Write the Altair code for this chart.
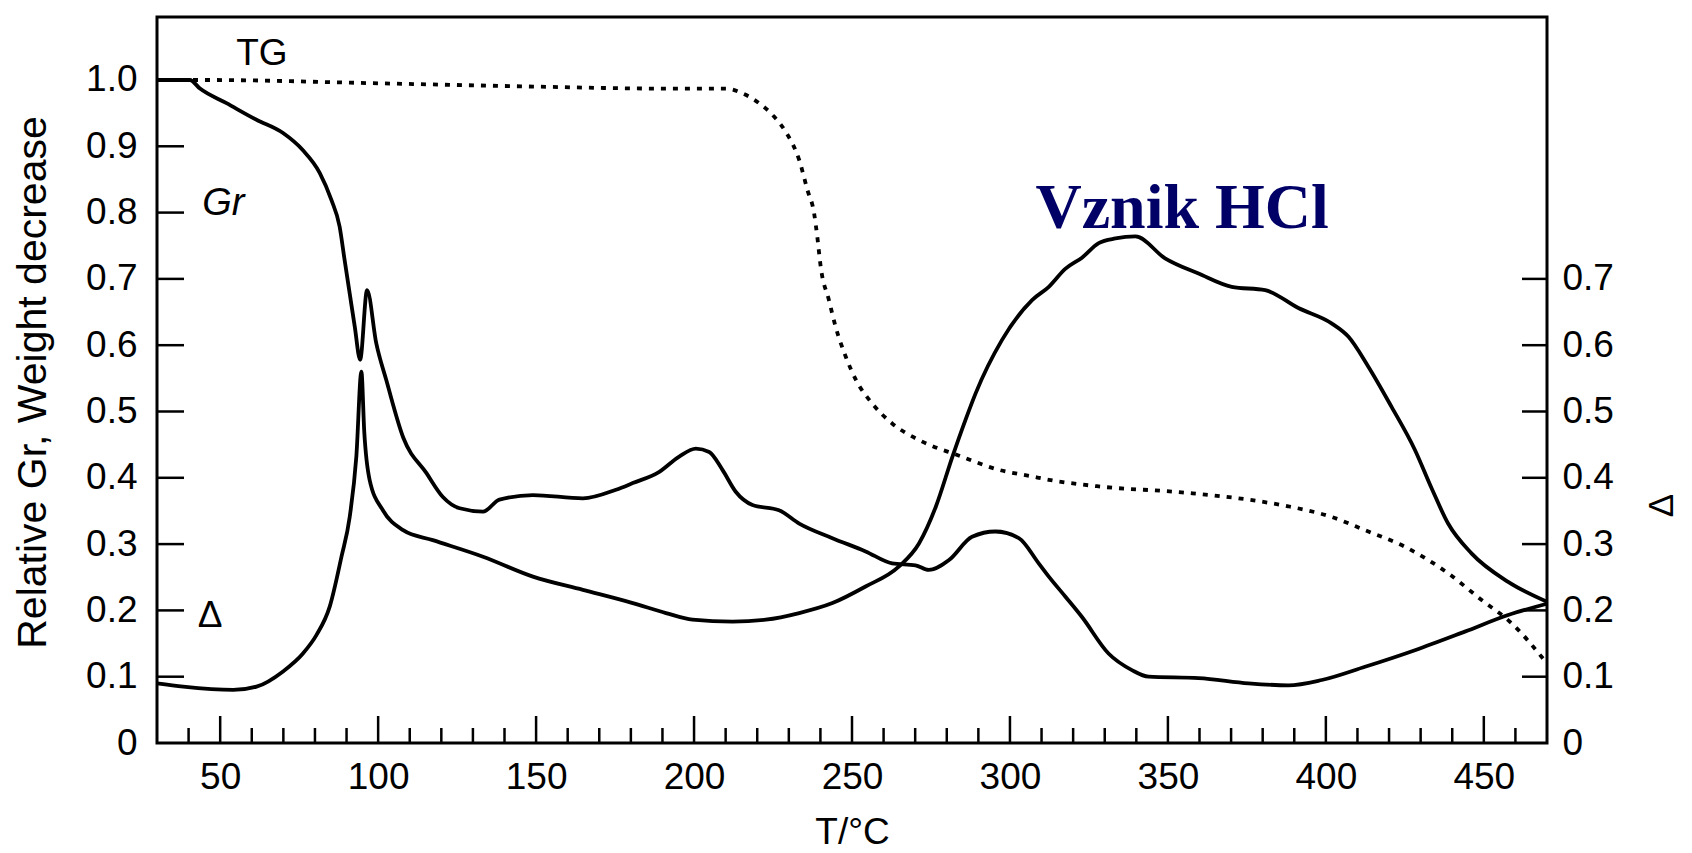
import altair as alt
import pandas as pd

# ---- data ----
tg_T = [30, 45, 100, 150, 190, 210, 215.3, 220.6, 225.3, 229, 233.3, 235.9, 238, 239, 240.1,
        242.7, 244.8, 248, 251.2, 256.4, 262.7, 271.2, 277.5, 281.8, 296.5, 307, 312.3, 328.1,
        354.4, 375.5, 388.1, 401.8, 412.4, 425, 438.7, 449.2, 458.7, 470]
tg_v = [1.0, 1.0, 0.995, 0.99, 0.987, 0.987, 0.98, 0.965, 0.945, 0.922, 0.879, 0.834, 0.799, 0.764,
        0.718, 0.668, 0.628, 0.583, 0.548, 0.512, 0.482, 0.457, 0.444, 0.437, 0.412, 0.402, 0.397,
        0.387, 0.378, 0.367, 0.357, 0.341, 0.321, 0.296, 0.256, 0.216, 0.181, 0.12]

gr_T = [30, 40.4, 43.6, 52, 61.5, 69.9, 76.2, 81.5, 85.2, 87.8, 89.4, 91, 92.6, 94.3, 96.5, 99.4,
        102.6, 108, 115.3, 120.5, 125.8, 133.2, 138.4, 149, 164.8, 175.3, 180.6, 189, 195.3, 200.6,
        204.8, 209, 213.2, 218.5, 226.9, 233.3, 243.8, 254.3, 262.7, 270.1, 274.3, 280.7, 288,
        295.4, 302.8, 309.1, 312.3, 317.5, 322.8, 331.2, 338.6, 343.9, 359.7, 375.5, 388.1, 398.7,
        412.4, 428.2, 444, 457.7, 470]
gr_v = [1.0, 1.0, 0.987, 0.965, 0.94, 0.92, 0.894, 0.86, 0.819, 0.779, 0.728, 0.678, 0.628, 0.578,
        0.683, 0.603, 0.547, 0.46, 0.407, 0.371, 0.354, 0.349, 0.367, 0.374, 0.369, 0.382, 0.392,
        0.409, 0.432, 0.444, 0.439, 0.412, 0.379, 0.359, 0.351, 0.331, 0.309, 0.289, 0.271, 0.268,
        0.261, 0.276, 0.311, 0.319, 0.309, 0.271, 0.251, 0.221, 0.19, 0.135, 0.11, 0.1, 0.098,
        0.09, 0.087, 0.095, 0.115, 0.14, 0.168, 0.193, 0.21]

d_T = [30, 38.3, 54.1, 61.5, 69.9, 76.2, 80.5, 84.7, 88.4, 91, 93.1, 94.7, 95.6, 97.3, 101.5,
       107.9, 117.3, 133.2, 149, 164.8, 180.6, 191.1, 199.5, 212.2, 222.7, 233.3, 243.8, 254.3,
       264.8, 271.2, 276.5, 281.8, 285.9, 289.1, 297.5, 307, 312.3, 317.5, 322.8, 328.1, 333.4,
       339.7, 349.1, 359.7, 370.2, 380.8, 391.3, 401.8, 407.1, 413.4, 420.8, 428.2, 433.4, 438.7,
       446.1, 457.7, 470]
d_v = [0.09, 0.085, 0.08, 0.085, 0.108, 0.135, 0.163, 0.206, 0.281, 0.341, 0.432, 0.56, 0.47,
       0.397, 0.351, 0.321, 0.306, 0.281, 0.251, 0.231, 0.211, 0.196, 0.186, 0.183, 0.186, 0.196,
       0.211, 0.236, 0.266, 0.301, 0.356, 0.432, 0.487, 0.527, 0.608, 0.668, 0.688, 0.715, 0.732,
       0.754, 0.761, 0.764, 0.731, 0.708, 0.688, 0.683, 0.656, 0.633, 0.613, 0.568, 0.507, 0.442,
       0.385, 0.331, 0.286, 0.243, 0.213]

x_major = [50, 100, 150, 200, 250, 300, 350, 400, 450]
x_minor = [40, 60, 70, 80, 90, 110, 120, 130, 140, 160, 170, 180, 190, 210, 220, 230, 240,
           260, 270, 280, 290, 310, 320, 330, 340, 360, 370, 380, 390, 410, 420, 430, 440, 460]
y_left_labels = [0, 0.1, 0.2, 0.3, 0.4, 0.5, 0.6, 0.7, 0.8, 0.9, 1.0]
y_right_labels = [0, 0.1, 0.2, 0.3, 0.4, 0.5, 0.6, 0.7]
y_left_ticks = [0.1, 0.2, 0.3, 0.4, 0.5, 0.6, 0.7, 0.8, 0.9, 1.0]
y_right_ticks = [0.1, 0.2, 0.3, 0.4, 0.5, 0.6, 0.7]

ann_text = ["TG", "Δ"]
ann_T = [63.2, 46.8]
ann_v = [1.023, 0.175]
gr_label_T = [51.0]
gr_label_v = [0.797]
hcl_text = ["Vznik HCl"]
hcl_T = [354.5]
hcl_v = [0.777]

# ---- tables ----
curves = pd.concat([
    pd.DataFrame({"T": gr_T, "v": gr_v, "series": "Gr"}),
    pd.DataFrame({"T": d_T, "v": d_v, "series": "Delta"}),
])
tg_df = pd.DataFrame({"T": tg_T, "v": tg_v})
xmaj_df = pd.DataFrame({"T": x_major})
xmin_df = pd.DataFrame({"T": x_minor})
yl_df = pd.DataFrame({"v": y_left_ticks})
yr_df = pd.DataFrame({"v": y_right_ticks})
ann_df = pd.DataFrame({"T": ann_T, "v": ann_v, "t": ann_text})
gr_df = pd.DataFrame({"T": gr_label_T, "v": gr_label_v, "t": ["Gr"]})
hcl_df = pd.DataFrame({"T": hcl_T, "v": hcl_v, "t": hcl_text})

W, H = 1390, 726
FONT = "Liberation Sans"
xs = alt.Scale(domain=[30, 470], nice=False, zero=False)
ys = alt.Scale(domain=[0, 1.095], nice=False, zero=False)

x_axis = alt.Axis(values=x_major, ticks=False, tickSize=0, domain=False, grid=False,
                  labelFont=FONT, labelFontSize=37, labelColor="black", labelPadding=16,
                  labelFlush=False, labelOverlap=False,
                  title="T/°C", titleFont=FONT, titleFontSize=37, titleFontWeight="normal",
                  titleColor="black", titleX=W / 2, titleY=100, titleBaseline="alphabetic",
                  titleAlign="center")
X = alt.X("T:Q", scale=xs, axis=x_axis)

y_left_axis = alt.Axis(orient="left", values=y_left_labels, ticks=False, tickSize=0,
                       domain=False, grid=False,
                       labelExpr="datum.value == 0 ? '0' : format(datum.value, '.1f')",
                       labelFont=FONT, labelFontSize=37, labelColor="black", labelPadding=20,
                       labelOverlap=False, labelFlush=False,
                       title="Relative Gr, Weight decrease", titleFont=FONT, titleFontSize=41,
                       titleFontWeight="normal", titleColor="black", titleAngle=270,
                       titleX=-124, titleY=365, titleBaseline="middle", titleAlign="center")
y_right_axis = alt.Axis(orient="right", values=y_right_labels, ticks=False, tickSize=0,
                        domain=False, grid=False,
                        labelExpr="datum.value == 0 ? '0' : format(datum.value, '.1f')",
                        labelFont=FONT, labelFontSize=37, labelColor="black", labelPadding=15,
                        labelOverlap=False, labelFlush=False,
                        title="Δ", titleFont=FONT, titleFontSize=35, titleFontWeight="normal",
                        titleColor="black", titleAngle=270, titleX=114, titleY=488,
                        titleBaseline="middle", titleAlign="center")

solid = alt.Chart(curves).mark_line(color="black", strokeWidth=3.8, interpolate="monotone").encode(
    x=X, y=alt.Y("v:Q", scale=ys, axis=y_left_axis), detail="series:N")

tg = alt.Chart(tg_df).mark_line(color="black", strokeWidth=3.8, strokeDash=[5, 7],
                                interpolate="monotone").encode(
    x=X, y=alt.Y("v:Q", scale=ys, axis=None))

xmaj = alt.Chart(xmaj_df).mark_rule(color="black", strokeWidth=2.5).encode(
    x=X, y=alt.value(H), y2=alt.value(H - 27))
xmin = alt.Chart(xmin_df).mark_rule(color="black", strokeWidth=2.5).encode(
    x=X, y=alt.value(H), y2=alt.value(H - 15))
yl = alt.Chart(yl_df).mark_rule(color="black", strokeWidth=2.5).encode(
    y=alt.Y("v:Q", scale=ys, axis=None), x=alt.value(0), x2=alt.value(27))
yr = alt.Chart(yr_df).mark_rule(color="black", strokeWidth=2.5).encode(
    y=alt.Y("v:Q", scale=ys, axis=y_right_axis), x=alt.value(W), x2=alt.value(W - 25))

ann = alt.Chart(ann_df).mark_text(font=FONT, fontSize=37, color="black", align="center",
                                  baseline="alphabetic").encode(
    x=X, y=alt.Y("v:Q", scale=ys, axis=None), text="t:N")
grl = alt.Chart(gr_df).mark_text(font=FONT, fontSize=38, fontStyle="italic", color="black",
                                 align="center", baseline="alphabetic").encode(
    x=X, y=alt.Y("v:Q", scale=ys, axis=None), text="t:N")
hcl = alt.Chart(hcl_df).mark_text(font="Liberation Serif", fontSize=64, fontWeight="bold",
                                  color="#000066", align="center", baseline="alphabetic").encode(
    x=X, y=alt.Y("v:Q", scale=ys, axis=None), text="t:N")

chart = alt.layer(solid, tg, xmaj, xmin, yl, yr, ann, grl, hcl).resolve_scale(
    y="independent"
).properties(
    width=W, height=H,
    autosize=alt.AutoSizeParams(type="none"),
    padding={"left": 149, "top": 9, "right": 137, "bottom": 110},
    background="white",
).configure_view(stroke="black", strokeWidth=3).configure_axis(grid=False)

chart.save("out.html", embed_options={"renderer": "svg", "actions": False})
